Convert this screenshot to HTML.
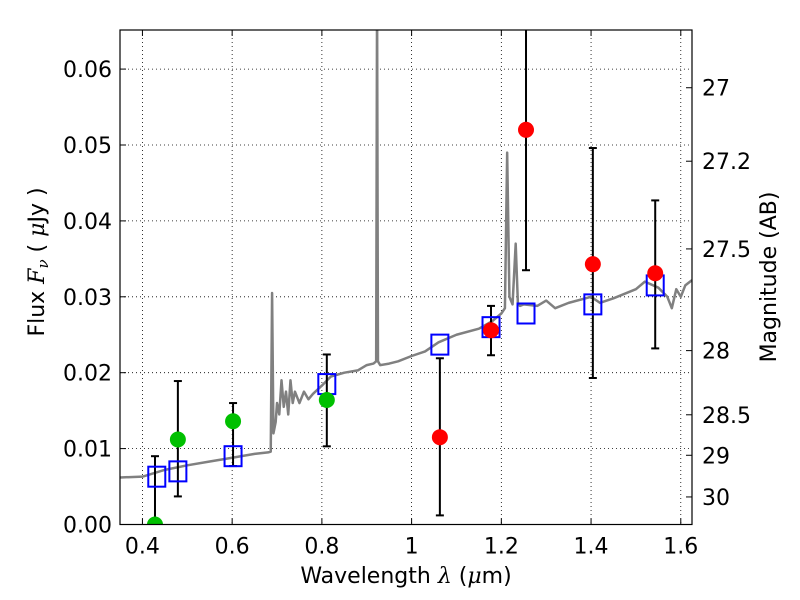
<!DOCTYPE html>
<html><head><meta charset="utf-8"><style>
html,body{margin:0;padding:0;background:#fff;}
svg{display:block;font-family:"DejaVu Sans","Liberation Sans",sans-serif;}
</style></head><body>
<svg id="chart" width="800" height="600" viewBox="0 0 800 600" xmlns="http://www.w3.org/2000/svg">
<rect width="800" height="600" fill="#fff"/>
<g id="grid"></g>
<g id="spec"></g>
<g id="marks"></g>
<g id="axes"></g>
<text x="406" y="583" font-size="22" text-anchor="middle">Wavelength  <tspan font-family="DejaVu Serif" font-style="italic">λ</tspan> (<tspan font-family="DejaVu Serif" font-style="italic">μ</tspan>m)</text>
<text transform="translate(44,262) rotate(-90)" font-size="22" text-anchor="middle">Flux  <tspan font-family="DejaVu Serif" font-style="italic">F<tspan font-size="15" dy="4">ν</tspan></tspan><tspan dy="-4">  (  </tspan><tspan font-family="DejaVu Serif" font-style="italic">μ</tspan>Jy )</text>
<text transform="translate(776,277) rotate(-90)" font-size="22" text-anchor="middle">Magnitude (AB)</text>
</svg>
<script>
const xTicks=[0.4,0.6,0.8,1.0,1.2,1.4,1.6];
const xTickLabels=["0.4","0.6","0.8","1","1.2","1.4","1.6"];
const yTicks=[0,0.01,0.02,0.03,0.04,0.05,0.06];
const yTickLabels=["0.00","0.01","0.02","0.03","0.04","0.05","0.06"];
const magTicks=[27,27.2,27.5,28,28.5,29,30];
const magTickLabels=["27","27.2","27.5","28","28.5","29","30"];
const specWave=[0.35,0.40,0.45,0.50,0.55,0.60,0.65,0.68,0.686,0.689,0.692,0.697,0.70,0.705,0.71,0.715,0.72,0.725,0.73,0.735,0.74,0.75,0.76,0.77,0.78,0.80,0.82,0.85,0.88,0.90,0.915,0.921,0.923,0.925,0.928,0.93,0.95,0.97,1.0,1.03,1.06,1.1,1.15,1.18,1.2,1.208,1.213,1.218,1.225,1.232,1.237,1.242,1.25,1.28,1.3,1.32,1.35,1.4,1.42,1.45,1.5,1.52,1.55,1.57,1.58,1.59,1.6,1.61,1.625];
const specFlux=[0.0062,0.0063,0.0072,0.0078,0.0083,0.0088,0.0093,0.0095,0.0096,0.0305,0.012,0.0135,0.016,0.0145,0.019,0.0155,0.0175,0.0145,0.019,0.016,0.0175,0.016,0.0175,0.0165,0.0172,0.0183,0.0195,0.0200,0.0203,0.0210,0.0212,0.0215,0.07,0.0215,0.0212,0.0210,0.0212,0.0215,0.0222,0.0228,0.0240,0.0250,0.0258,0.0268,0.0278,0.0285,0.0490,0.0300,0.0290,0.0370,0.0290,0.0288,0.0290,0.0288,0.0295,0.0285,0.0292,0.0300,0.0292,0.0298,0.0310,0.0320,0.0312,0.0300,0.0285,0.0310,0.0300,0.0315,0.0322];
const modelWave=[0.432,0.479,0.602,0.811,1.063,1.177,1.255,1.404,1.543];
const modelFlux=[0.0063,0.0070,0.0090,0.0185,0.0237,0.0260,0.0278,0.0290,0.0315];
const greenWave=[0.428,0.479,0.602,0.811];
const greenFlux=[0.0,0.0112,0.0136,0.0164];
const greenErrLo=[-0.01,0.0037,0.0077,0.0103];
const greenErrHi=[0.0090,0.0189,0.0160,0.0224];
const redWave=[1.063,1.177,1.255,1.404,1.543];
const redFlux=[0.0115,0.0256,0.0520,0.0343,0.0331];
const redErrLo=[0.0012,0.0223,0.0335,0.0193,0.0232];
const redErrHi=[0.0219,0.0288,0.0800,0.0496,0.0427];

const L=120,R=692,T=30,B=524.5;
const xMin=0.35,xMax=1.625,yMin=0,yMax=0.06515;
const X=v=>L+(v-xMin)/(xMax-xMin)*(R-L);
const Y=v=>B-(v-yMin)/(yMax-yMin)*(B-T);
const magToFlux=m=>Math.pow(10,(23.9-m)/2.5);
const NS="http://www.w3.org/2000/svg";
function mk(tag,attrs,parent){const e=document.createElementNS(NS,tag);for(const k in attrs)e.setAttribute(k,attrs[k]);parent.appendChild(e);return e;}
const grid=document.getElementById('grid'),axes=document.getElementById('axes'),spec=document.getElementById('spec'),marks=document.getElementById('marks');
const defs=mk('defs',{},document.getElementById('chart'));
const cp=mk('clipPath',{id:'clip'},defs);mk('rect',{x:L,y:T,width:R-L,height:B-T},cp);
spec.setAttribute('clip-path','url(#clip)');marks.setAttribute('clip-path','url(#clip)');

xTicks.forEach((v,i)=>{const x=X(v);
 const g=mk('line',{x1:x,x2:x,y1:T,y2:B,stroke:'#000','stroke-width':0.8,'stroke-dasharray':'1,3'},grid);
 
 
 mk('line',{x1:x,x2:x,y1:B,y2:B-6,stroke:'#000'},axes);
 mk('line',{x1:x,x2:x,y1:T,y2:T+6,stroke:'#000'},axes);
 const t=mk('text',{x:x,y:B+29,'font-size':22,'text-anchor':'middle'},axes);t.textContent=xTickLabels[i];
 
 
});
yTicks.forEach((v,i)=>{const y=Y(v);
 if(v>0){const g=mk('line',{x1:L,x2:R,y1:y,y2:y,stroke:'#000','stroke-width':0.8,'stroke-dasharray':'1,3'},grid);
 
 }
 mk('line',{x1:L,x2:L+6,y1:y,y2:y,stroke:'#000'},axes);
 const t=mk('text',{x:L-8,y:y+8,'font-size':22,'text-anchor':'end'},axes);t.textContent=yTickLabels[i];
 
 
});
magTicks.forEach((m,i)=>{const y=Y(magToFlux(m));
 mk('line',{x1:R,x2:R-6,y1:y,y2:y,stroke:'#000'},axes);
 const t=mk('text',{x:R+10,y:y+8,'font-size':22},axes);t.textContent=magTickLabels[i];
 
 
});
const fr=mk('rect',{x:L,y:T,width:R-L,height:B-T,fill:'none',stroke:'#000','stroke-width':1.2},axes);



const sp=mk('polyline',{points:specWave.map((w,i)=>X(w)+','+Y(specFlux[i])).join(' '),fill:'none',stroke:'#808080','stroke-width':2.5,'stroke-linejoin':'round'},spec);



function errbar(w,lo,hi){const x=X(w),y1=Y(hi),y2=Y(lo);
 const g=mk('g',{},marks);
 
 
 mk('line',{x1:x,x2:x,y1:y1,y2:y2,stroke:'#000','stroke-width':2},g);
 mk('line',{x1:x-4,x2:x+4,y1:y1,y2:y1,stroke:'#000','stroke-width':2},g);
 mk('line',{x1:x-4,x2:x+4,y1:y2,y2:y2,stroke:'#000','stroke-width':2},g);}
greenWave.forEach((w,i)=>errbar(w,greenErrLo[i],greenErrHi[i]));
redWave.forEach((w,i)=>errbar(w,redErrLo[i],redErrHi[i]));
modelWave.forEach((w,i)=>{const r=mk('rect',{x:X(w)-8.5,y:Y(modelFlux[i])-10,width:17,height:20,fill:'none',stroke:'#0000ff','stroke-width':2},marks);
 
 });
greenWave.forEach((w,i)=>{const c=mk('circle',{cx:X(w),cy:Y(greenFlux[i]),r:8,fill:'#00c000'},marks);
 
 });
redWave.forEach((w,i)=>{const c=mk('circle',{cx:X(w),cy:Y(redFlux[i]),r:8,fill:'#ff0000'},marks);
 
 });
</script>
</body></html>
